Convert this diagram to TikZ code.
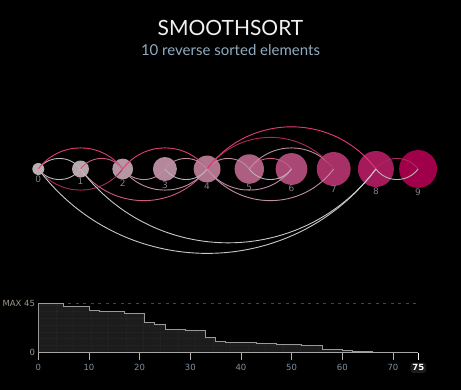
\documentclass[tikz,border=0pt]{standalone}
\usepackage{fontspec}
\setmainfont{Lato}
\newfontfamily\chartfont{DejaVu Sans}
\usetikzlibrary{positioning}

\definecolor{heapred}{RGB}{160,0,74}
\definecolor{heapgrey}{RGB}{184,176,178}
\definecolor{arcpink}{RGB}{228,60,114}
\definecolor{arcrose}{RGB}{206,90,130}
\definecolor{arcdark}{RGB}{170,42,90}
\definecolor{arcmauve}{RGB}{192,142,160}
\definecolor{arcgrey}{RGB}{186,182,184}
\definecolor{arclight}{RGB}{202,198,200}
\definecolor{subblue}{RGB}{145,172,192}
\definecolor{labelgrey}{RGB}{130,130,130}
\definecolor{ticktext}{RGB}{125,145,165}
\definecolor{maxtext}{RGB}{160,150,136}
\definecolor{stepfill}{RGB}{28,28,28}

\begin{document}
\begin{tikzpicture}[x=1pt,y=1pt,
  swapline/.style={line width=0.9pt},
  arcup/.style={bend left=53,looseness=1.07},
  arcdown/.style={bend right=53,looseness=1.07},
  keylabel/.style={text=labelgrey,font=\chartfont\fontsize{9}{9}\selectfont,inner sep=0pt},
  ticklabel/.style={text=ticktext,font=\chartfont\fontsize{8.5}{8.5}\selectfont,inner sep=0pt}]

  % black page
  \fill[black] (0,0) rectangle (461,-390);
  \useasboundingbox (0,0) rectangle (461,-390);

  \node[text=white!94!black,font=\fontsize{21}{21}\selectfont] (title) at (230.5,-27.5) {SMOOTHSORT};
  \node[text=subblue,font=\fontsize{15}{15}\selectfont] (subtitle) at (230.5,-50) {10 reverse sorted elements};

  % the ten elements
  \foreach \i in {0,...,9}{
    \pgfmathsetmacro\dia{12*sqrt(\i+1)}
    \pgfmathtruncatemacro\pc{100*(\i/9)^1.3}
    \node[circle,inner sep=0pt,minimum size=\dia pt,fill=heapred!\pc!heapgrey,
          label distance=4pt,label={[keylabel]below:\i}] (n\i) at ({38.3+42.2*\i},-169) {};
  }

  % swaps above
  \foreach \a/\b/\c in {0/1/arcgrey, 0/2/arcpink, 1/2/arcrose, 2/4/arcpink, 3/4/arcmauve,
                        4/5/arcmauve, 5/6/arcrose, 5/7/arcmauve, 4/7/arcdark, 4/8/arcpink, 8/9/arcdark}
    \draw[swapline,\c] (n\a.center) to[arcup] (n\b.center);
  % swaps below
  \foreach \a/\b/\c in {0/1/arcgrey, 0/2/arcdark, 1/4/arcrose, 2/3/arcmauve, 2/4/arcmauve, 3/4/arcgrey,
                        4/6/arcmauve, 4/7/arcmauve, 5/6/arcgrey, 0/8/arclight, 1/8/arclight, 8/9/arcgrey}
    \draw[swapline,\c] (n\a.center) to[arcdown] (n\b.center);

  % chart of the remaining disorder
  \begin{scope}[shift={(38.3,-352)},x=5.067pt,y=1.089pt]
    \fill[stepfill] (0,0) -- (0,45) -| (5,42) -| (10,38) -| (12,37) -| (17,35) -| (21,27)
      -| (23,25) -| (25,21) -| (29,20) -| (33,13.5) -| (35,10) -| (37,9) -| (43,8) -| (47,7)
      -| (52,6) -| (56,2.5) -| (60,1.6) -| (62,0.6) -| (66,0) -- (75,0) -- cycle;
    \begin{scope}
      \clip (0,0) -- (0,45) -| (5,42) -| (10,38) -| (12,37) -| (17,35) -| (21,27)
        -| (23,25) -| (25,21) -| (29,20) -| (33,13.5) -| (35,10) -| (37,9) -| (43,8) -| (47,7)
        -| (52,6) -| (56,2.5) -| (60,1.6) -| (62,0.6) -| (66,0) -- (75,0) -- cycle;
      \foreach \t in {3.45,6.9,...,75}
        \draw[gray!28!black,densely dotted] (\t,0) -- (\t,45);
      \foreach \v in {6.2,12.4,...,45}
        \draw[gray!28!black,densely dotted] (0,\v) -- (75,\v);
    \end{scope}
    \draw[gray!55!black,dash pattern=on 3pt off 4.5pt] (0,45) -- (75,45);
    \draw[gray!80,line width=0.8pt] (0,0) -- (0,45) -| (5,42) -| (10,38) -| (12,37) -| (17,35) -| (21,27)
      -| (23,25) -| (25,21) -| (29,20) -| (33,13.5) -| (35,10) -| (37,9) -| (43,8) -| (47,7)
      -| (52,6) -| (56,2.5) -| (60,1.6) -| (62,0.6) -| (66,0) -- (75,0);
    \draw[gray!70,line width=0.8pt] (0,0) -- (75,0);
    \foreach \t in {0,10,...,70}{
      \draw[gray!60] (\t,-1) -- (\t,-7);
      \node[ticklabel] (tick\t) at (\t,-14.5) {\t};
    }
    \draw[white] (75,-1) -- (75,-7);
    \node[fill=gray!22!black,rounded corners=3pt,inner sep=2pt,text=white,
          font=\chartfont\bfseries\fontsize{8.5}{8.5}\selectfont] (tickend) at (75,-14.5) {75};
    \node[text=maxtext,font=\chartfont\fontsize{8.5}{8.5}\selectfont,inner sep=0pt,anchor=east] (maxlabel) at (-0.6,45) {MAX 45};
    \node[text=maxtext,font=\chartfont\fontsize{8.5}{8.5}\selectfont,inner sep=0pt,anchor=east] (zerolabel) at (-0.6,0) {0};
  \end{scope}
\end{tikzpicture}
\end{document}
